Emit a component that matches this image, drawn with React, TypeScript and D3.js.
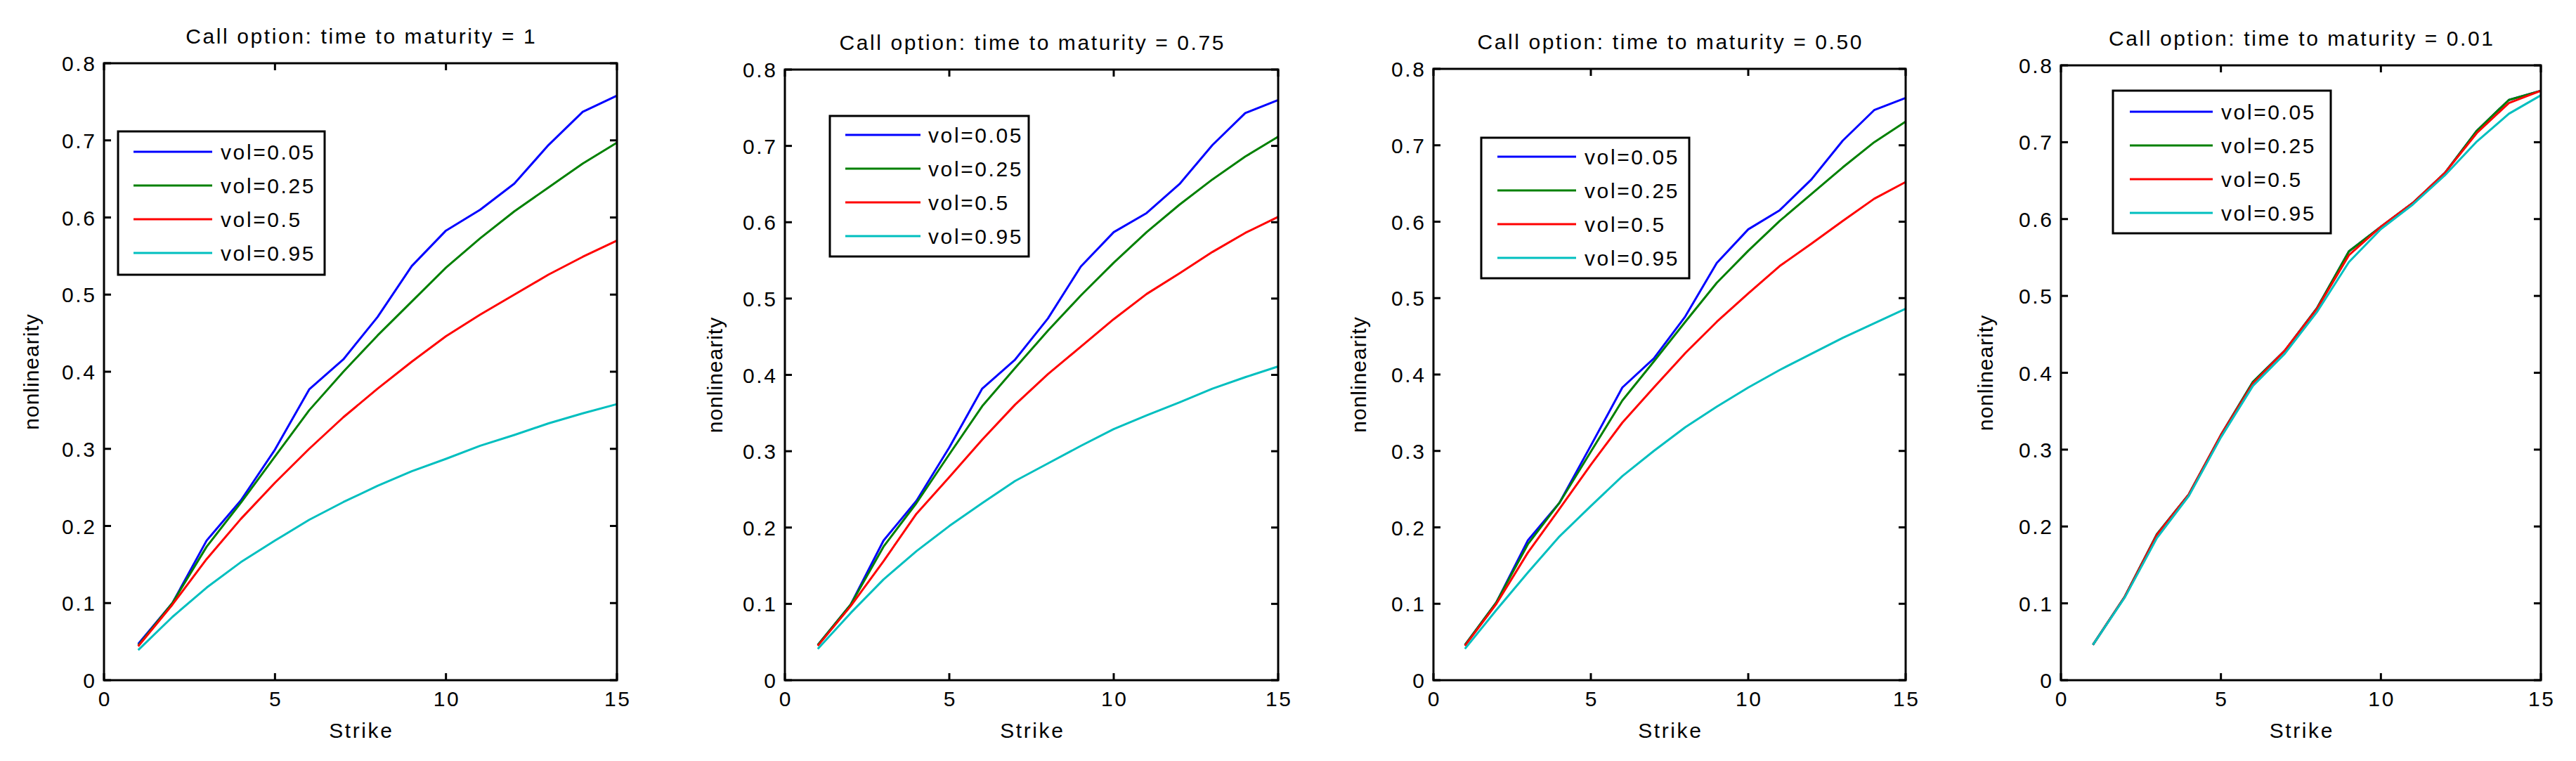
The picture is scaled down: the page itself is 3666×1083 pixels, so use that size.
import React from "react";
import * as d3 from "d3";

// ---------- data ----------
const strikes = [1, 2, 3, 4, 5, 6, 7, 8, 9, 10, 11, 12, 13, 14, 15];
const volLabels = ["vol=0.05", "vol=0.25", "vol=0.5", "vol=0.95"];
const panelTitles = [
  "Call option: time to maturity = 1",
  "Call option: time to maturity = 0.75",
  "Call option: time to maturity = 0.50",
  "Call option: time to maturity = 0.01",
];
const xTickValues = [0, 5, 10, 15];
const xTickLabels = ["0", "5", "10", "15"];
const yTickValues = [0, 0.1, 0.2, 0.3, 0.4, 0.5, 0.6, 0.7, 0.8];
const yTickLabels = ["0", "0.1", "0.2", "0.3", "0.4", "0.5", "0.6", "0.7", "0.8"];
const xLabel = "Strike";
const yLabel = "nonlinearity";

// time to maturity = 1
const t1Vol005 = [0.047, 0.1, 0.181, 0.233, 0.299, 0.377, 0.416, 0.471, 0.537, 0.583, 0.61, 0.644, 0.694, 0.737, 0.758];
const t1Vol025 = [0.045, 0.1, 0.173, 0.23, 0.29, 0.35, 0.4, 0.447, 0.491, 0.535, 0.573, 0.608, 0.639, 0.67, 0.697];
const t1Vol050 = [0.044, 0.098, 0.157, 0.209, 0.256, 0.3, 0.341, 0.378, 0.413, 0.446, 0.474, 0.5, 0.526, 0.549, 0.57];
const t1Vol095 = [0.039, 0.082, 0.12, 0.153, 0.181, 0.208, 0.231, 0.252, 0.271, 0.287, 0.304, 0.318, 0.333, 0.346, 0.358];

// time to maturity = 0.75
const t075Vol005 = [0.046, 0.099, 0.183, 0.235, 0.305, 0.382, 0.42, 0.474, 0.542, 0.587, 0.612, 0.65, 0.701, 0.743, 0.76];
const t075Vol025 = [0.046, 0.099, 0.175, 0.232, 0.296, 0.359, 0.409, 0.458, 0.504, 0.547, 0.587, 0.623, 0.656, 0.686, 0.712];
const t075Vol050 = [0.045, 0.097, 0.156, 0.218, 0.266, 0.315, 0.361, 0.401, 0.437, 0.473, 0.506, 0.533, 0.561, 0.586, 0.607];
const t075Vol095 = [0.041, 0.088, 0.132, 0.169, 0.202, 0.232, 0.261, 0.284, 0.307, 0.329, 0.347, 0.364, 0.382, 0.397, 0.411];

// time to maturity = 0.50
const t050Vol005 = [0.046, 0.102, 0.183, 0.232, 0.307, 0.383, 0.421, 0.476, 0.546, 0.59, 0.615, 0.655, 0.706, 0.746, 0.762];
const t050Vol025 = [0.046, 0.102, 0.178, 0.232, 0.299, 0.366, 0.417, 0.469, 0.52, 0.562, 0.601, 0.636, 0.671, 0.704, 0.731];
const t050Vol050 = [0.045, 0.1, 0.167, 0.224, 0.282, 0.337, 0.383, 0.428, 0.469, 0.506, 0.542, 0.571, 0.601, 0.63, 0.652];
const t050Vol095 = [0.041, 0.092, 0.141, 0.188, 0.228, 0.267, 0.3, 0.331, 0.358, 0.383, 0.406, 0.427, 0.448, 0.467, 0.486];

// time to maturity = 0.01
const t001Vol005 = [0.046, 0.109, 0.19, 0.242, 0.319, 0.388, 0.429, 0.484, 0.558, 0.59, 0.621, 0.66, 0.715, 0.755, 0.767];
const t001Vol025 = [0.046, 0.109, 0.19, 0.242, 0.319, 0.388, 0.429, 0.484, 0.558, 0.59, 0.621, 0.66, 0.715, 0.755, 0.767];
const t001Vol050 = [0.046, 0.109, 0.189, 0.242, 0.319, 0.386, 0.429, 0.483, 0.553, 0.59, 0.621, 0.66, 0.712, 0.751, 0.767];
const t001Vol095 = [0.046, 0.108, 0.185, 0.24, 0.316, 0.383, 0.425, 0.479, 0.544, 0.587, 0.619, 0.657, 0.701, 0.737, 0.761];

const panelSeries = [
  [t1Vol005, t1Vol025, t1Vol050, t1Vol095],
  [t075Vol005, t075Vol025, t075Vol050, t075Vol095],
  [t050Vol005, t050Vol025, t050Vol050, t050Vol095],
  [t001Vol005, t001Vol025, t001Vol050, t001Vol095],
];

// ---------- styles / layout ----------
const colors = ["#0000ff", "#008000", "#ff0000", "#00bfbf"];
const FONT = "'Liberation Sans', Arial, Helvetica, sans-serif";
const LS = 2.6;
const txt: React.CSSProperties = {
  fontFamily: FONT,
  fontSize: "30px",
  letterSpacing: `${LS}px`,
};
const ylabStyle: React.CSSProperties = {
  fontFamily: FONT,
  fontSize: "30px",
  letterSpacing: "1px",
};

const layouts = [
  { L: 148, R: 878, T: 90, B: 968, ylX: 55, leg: { x: 168, y: 187, w: 294, h: 204, r0: 29, l0: 22, l1: 134, tx: 146 } },
  { L: 1117, R: 1819, T: 99, B: 968, ylX: 1028, leg: { x: 1181, y: 165, w: 283, h: 200, r0: 27, l0: 22, l1: 129, tx: 140 } },
  { L: 2040, R: 2712, T: 98, B: 968, ylX: 1944, leg: { x: 2108, y: 196, w: 296, h: 200, r0: 27, l0: 23, l1: 135, tx: 147 } },
  { L: 2933, R: 3616, T: 93, B: 968, ylX: 2836, leg: { x: 3007, y: 129, w: 310, h: 203, r0: 30, l0: 24, l1: 142, tx: 154 } },
];
const ROW_GAP = 48;
const TICK = 10;

function Panel({ idx }: { idx: number }) {
  const lay = layouts[idx];
  const x = d3.scaleLinear().domain([0, 15]).range([lay.L, lay.R]);
  const y = d3.scaleLinear().domain([0, 0.8]).range([lay.B, lay.T]);
  const line = d3
    .line<number>()
    .x((_, i) => x(strikes[i]))
    .y((d) => y(d));
  const cx = (lay.L + lay.R) / 2;
  const cy = (lay.T + lay.B) / 2;
  const leg = lay.leg;
  return (
    <g>
      {panelSeries[idx].map((s, k) => (
        <path key={k} d={line(s) || ""} fill="none" stroke={colors[k]} strokeWidth={3} strokeLinejoin="round" />
      ))}
      <rect x={lay.L} y={lay.T} width={lay.R - lay.L} height={lay.B - lay.T} fill="none" stroke="#000" strokeWidth={3} />
      {xTickValues.map((v, i) => (
        <g key={"xt" + i}>
          <line x1={x(v)} x2={x(v)} y1={lay.B} y2={lay.B - TICK} stroke="#000" strokeWidth={3} />
          <line x1={x(v)} x2={x(v)} y1={lay.T} y2={lay.T + TICK} stroke="#000" strokeWidth={3} />
          <text x={x(v) + LS / 2} y={lay.B + 37} textAnchor="middle" style={txt}>
            {xTickLabels[i]}
          </text>
        </g>
      ))}
      {yTickValues.map((v, i) => (
        <g key={"yt" + i}>
          <line x1={lay.L} x2={lay.L + TICK} y1={y(v)} y2={y(v)} stroke="#000" strokeWidth={3} />
          <line x1={lay.R} x2={lay.R - TICK} y1={y(v)} y2={y(v)} stroke="#000" strokeWidth={3} />
          <text x={lay.L - 13 + LS} y={y(v) + 11} textAnchor="end" style={txt}>
            {yTickLabels[i]}
          </text>
        </g>
      ))}
      <text x={cx + LS / 2} y={lay.T - 28} textAnchor="middle" style={txt}>
        {panelTitles[idx]}
      </text>
      <text x={cx + LS / 2} y={lay.B + 82} textAnchor="middle" style={txt}>
        {xLabel}
      </text>
      <text transform={`translate(${lay.ylX},${cy}) rotate(-90)`} textAnchor="middle" style={ylabStyle}>
        {yLabel}
      </text>
      <rect x={leg.x} y={leg.y} width={leg.w} height={leg.h} fill="#fff" stroke="#000" strokeWidth={3} />
      {volLabels.map((lab, k) => {
        const ry = leg.y + leg.r0 + ROW_GAP * k;
        return (
          <g key={"lg" + k}>
            <line x1={leg.x + leg.l0} x2={leg.x + leg.l1} y1={ry} y2={ry} stroke={colors[k]} strokeWidth={3} />
            <text x={leg.x + leg.tx} y={ry + 11} style={txt}>
              {lab}
            </text>
          </g>
        );
      })}
    </g>
  );
}

export default function App() {
  return (
    <svg
      width={3666}
      height={1083}
      viewBox="0 0 3666 1083"
      style={{ position: "absolute", left: 0, top: 0, display: "block", background: "#fff" }}
    >
      <rect x={0} y={0} width={3666} height={1083} fill="#fff" />
      {[0, 1, 2, 3].map((i) => (
        <Panel key={i} idx={i} />
      ))}
    </svg>
  );
}
